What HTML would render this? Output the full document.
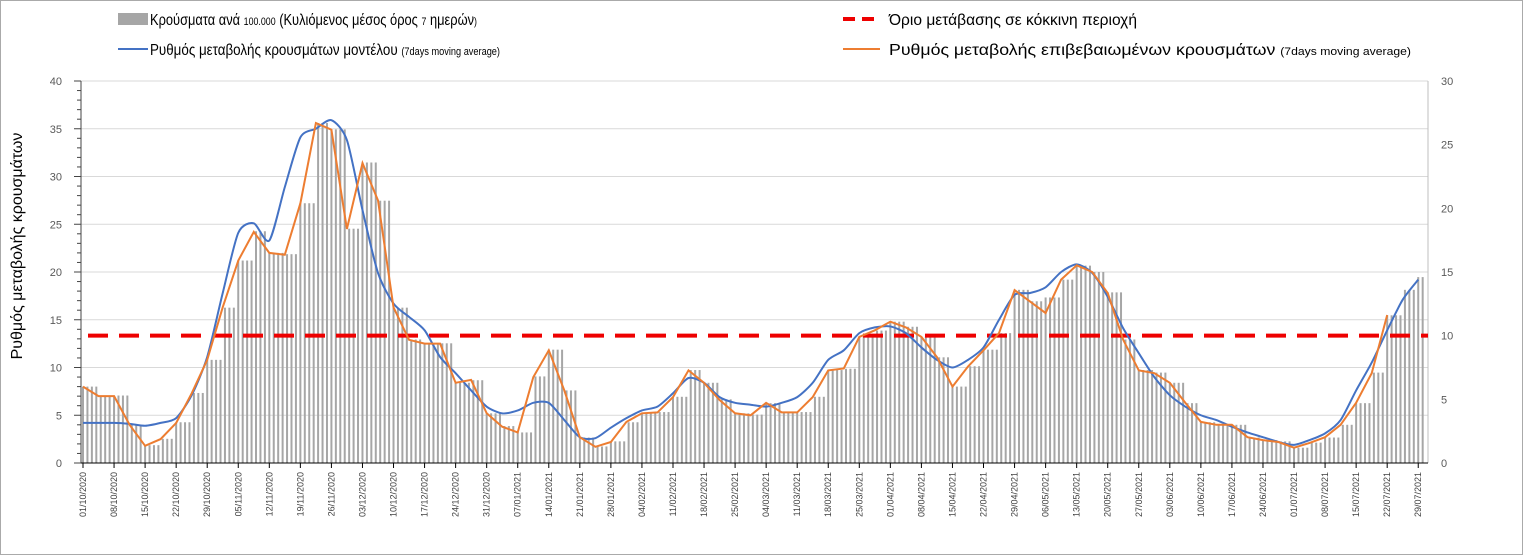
<!DOCTYPE html>
<html><head><meta charset="utf-8"><style>
body{margin:0;background:#fff}
svg{display:block}
text{font-family:"Liberation Sans",sans-serif}
</style></head><body>
<svg id="chart" width="1523" height="555" xmlns="http://www.w3.org/2000/svg">
<rect x="0.5" y="0.5" width="1522" height="554" fill="#fff" stroke="#aaa"/>
<g id="grid"></g>
<g id="bars"></g>
<g id="axes"></g>
<line id="thr" stroke="#e00" stroke-width="4" stroke-dasharray="20,11"/>
<path id="blue" fill="none" stroke="#4472c4" stroke-width="2"/>
<path id="orange" fill="none" stroke="#ed7d31" stroke-width="2"/>
<g id="xlabels"></g>
<text transform="translate(22,246) rotate(-90)" text-anchor="middle" font-size="16" fill="#000">Ρυθμός μεταβολής κρουσμάτων</text>
<g>
 <g>
  <rect x="118" y="13" width="30" height="12" fill="#a6a6a6"/>
  <text x="150" y="25" font-size="16" textLength="327" lengthAdjust="spacingAndGlyphs">Κρούσματα ανά <tspan font-size="11">100.000</tspan> (Κυλιόμενος μέσος όρος <tspan font-size="11">7</tspan> ημερών<tspan font-size="11">)</tspan></text>
 </g>
 <g>
  <line x1="843" y1="19" x2="880" y2="19" stroke="#e00" stroke-width="4" stroke-dasharray="12,7"/>
  <text x="889" y="25" font-size="16" textLength="248" lengthAdjust="spacingAndGlyphs">Όριο μετάβασης σε κόκκινη περιοχή</text>
 </g>
 <g>
  <line x1="118" y1="49" x2="148" y2="49" stroke="#4472c4" stroke-width="2"/>
  <text x="150" y="55" font-size="16" textLength="350" lengthAdjust="spacingAndGlyphs">Ρυθμός μεταβολής κρουσμάτων μοντέλου <tspan font-size="11">(7days moving average)</tspan></text>
 </g>
 <g>
  <line x1="843" y1="49" x2="880" y2="49" stroke="#ed7d31" stroke-width="2"/>
  <text x="889" y="55" font-size="16" textLength="522" lengthAdjust="spacingAndGlyphs">Ρυθμός μεταβολής επιβεβαιωμένων κρουσμάτων <tspan font-size="11">(7days moving average)</tspan></text>
 </g>
</g>
</svg>
<script>
const xLabels=["01/10/2020","08/10/2020","15/10/2020","22/10/2020","29/10/2020","05/11/2020","12/11/2020","19/11/2020","26/11/2020","03/12/2020","10/12/2020","17/12/2020","24/12/2020","31/12/2020","07/01/2021","14/01/2021","21/01/2021","28/01/2021","04/02/2021","11/02/2021","18/02/2021","25/02/2021","04/03/2021","11/03/2021","18/03/2021","25/03/2021","01/04/2021","08/04/2021","15/04/2021","22/04/2021","29/04/2021","06/05/2021","13/05/2021","20/05/2021","27/05/2021","03/06/2021","10/06/2021","17/06/2021","24/06/2021","01/07/2021","08/07/2021","15/07/2021","22/07/2021","29/07/2021"];
const leftTicks=[0,5,10,15,20,25,30,35,40];
const rightTicks=[0,5,10,15,20,25,30];
const threshold=10;
const confirmedRate=[8.0,7.0,7.0,4.0,1.8,2.5,4.2,7.3,10.8,16.3,21.2,24.2,22,21.8,27.2,35.6,34.9,24.5,31.4,27.5,16.3,12.9,12.5,12.5,8.4,8.7,5.2,3.8,3.2,9.0,11.8,7.6,2.7,1.7,2.2,4.3,5.2,5.3,6.9,9.7,8.4,6.6,5.2,5.0,6.3,5.3,5.3,6.9,9.7,9.9,13.2,13.9,14.8,14.2,13.2,11.1,8.0,10.1,11.8,13.6,18.1,16.9,15.7,19.2,20.7,20.0,17.8,12.9,9.7,9.4,8.4,6.3,4.3,4.0,4.0,2.7,2.4,2.2,1.6,2.1,2.7,4.0,6.3,9.4,15.5];
const modelRate=[4.2,4.2,4.2,4.1,3.9,4.2,4.7,7.1,11.1,17.8,24.1,25.1,23.3,28.9,34.1,35.0,35.9,33.8,26.5,19.9,16.7,15.3,13.9,11.1,9.4,7.6,5.9,5.2,5.5,6.3,6.3,4.5,2.7,2.6,3.7,4.7,5.5,5.9,7.3,8.9,8.4,6.9,6.3,6.1,5.9,6.3,6.9,8.4,10.8,11.8,13.6,14.2,14.3,13.6,12.1,10.8,10.0,10.8,12.1,15.0,17.6,17.8,18.4,20.0,20.8,19.9,17.4,14.1,11.5,9.0,7.1,5.9,5.0,4.5,3.8,3.2,2.7,2.2,1.9,2.4,3.1,4.5,7.6,10.5,13.9,17.1,19.2];
const casesPer100k=[6.0,5.3,5.3,3.0,1.4,1.9,3.2,5.5,8.1,12.2,15.9,18.2,16.5,16.4,20.4,26.7,26.2,18.4,23.6,20.6,12.2,9.7,9.4,9.4,6.3,6.5,3.9,2.9,2.4,6.8,8.9,5.7,2.0,1.3,1.7,3.2,3.9,4.0,5.2,7.3,6.3,5.0,3.9,3.8,4.7,4.0,4.0,5.2,7.3,7.4,9.9,10.4,11.1,10.7,9.9,8.3,6.0,7.6,8.9,10.2,13.6,12.7,13.0,14.4,15.5,15.0,13.4,9.7,7.3,7.1,6.3,4.7,3.2,3.0,3.0,2.0,1.8,1.7,1.2,1.6,2.0,3.0,4.7,7.1,11.6,13.6,14.6];

const NS="http://www.w3.org/2000/svg";
const X0=83, PXDAY=4.436, YB=463, YT=81, XL=81, XR=1428;
const xDay=d=>X0+d*PXDAY;
const yL=v=>YB-(v/40)*(YB-YT);
const yR=v=>YB-(v/30)*(YB-YT);
function el(t,a,p){const e=document.createElementNS(NS,t);for(const k in a)e.setAttribute(k,a[k]);p.appendChild(e);return e;}
const grid=document.getElementById('grid'),axes=document.getElementById('axes'),bars=document.getElementById('bars'),xl=document.getElementById('xlabels');
leftTicks.forEach(v=>{
  if(v>0){const g=el('line',{x1:XL,x2:XR,y1:yL(v),y2:yL(v),stroke:'#d9d9d9','stroke-width':1},grid);
  
  }
  const t=el('text',{x:62,y:yL(v)+4,'text-anchor':'end','font-size':11,fill:'#595959'},axes);
  t.textContent=v;
  
  
});
for(let v=0;v<=40;v++){el('line',{x1:v%5?77:74,x2:XL,y1:yL(v),y2:yL(v),stroke:'#444','stroke-width':1},axes);}
rightTicks.forEach(v=>{
  const t=el('text',{x:1441,y:yR(v)+4,'font-size':11,fill:'#595959'},axes);
  t.textContent=v;
  
  
});
el('line',{x1:XL,x2:XL,y1:YT,y2:YB,stroke:'#444'},axes);
el('line',{x1:XR,x2:XR,y1:YT,y2:YB,stroke:'#bfbfbf'},axes);
el('line',{x1:XL,x2:XR,y1:YB,y2:YB,stroke:'#000'},axes);
const nDays=303;
for(let d=0;d<nDays;d++){
  const i=Math.min(casesPer100k.length-1,Math.floor(d/3.5));
  const v=casesPer100k[i];
  const b=el('rect',{x:xDay(d)-1,y:yR(v),width:2,height:YB-yR(v),fill:'#a6a6a6'},bars);
  
  
}
const thr=document.getElementById('thr');
thr.setAttribute('x1',88);thr.setAttribute('x2',XR);thr.setAttribute('y1',yR(threshold));thr.setAttribute('y2',yR(threshold));
document.getElementById('orange').setAttribute('d',confirmedRate.map((v,i)=>(i?'L':'M')+xDay(i*3.5).toFixed(1)+' '+yL(v).toFixed(1)).join(' '));
const P=modelRate.map((v,i)=>[xDay(i*3.5),yL(v)]);
let d='M'+P[0][0]+' '+P[0][1];
for(let i=0;i<P.length-1;i++){const p0=P[Math.max(0,i-1)],p1=P[i],p2=P[i+1],p3=P[Math.min(P.length-1,i+2)];
 d+=` C${p1[0]+(p2[0]-p0[0])/8} ${p1[1]+(p2[1]-p0[1])/8} ${p2[0]-(p3[0]-p1[0])/8} ${p2[1]-(p3[1]-p1[1])/8} ${p2[0]} ${p2[1]}`;}
document.getElementById('blue').setAttribute('d',d);
xLabels.forEach((s,i)=>{
  const x=xDay(i*7);
  el('line',{x1:x,x2:x,y1:YB,y2:YB+5,stroke:'#000'},axes);
  const t=el('text',{transform:`translate(${x+3},472) rotate(-90)`,'text-anchor':'end','font-size':9,fill:'#404040'},xl);
  t.textContent=s;
  
  
});
</script>
</body></html>
